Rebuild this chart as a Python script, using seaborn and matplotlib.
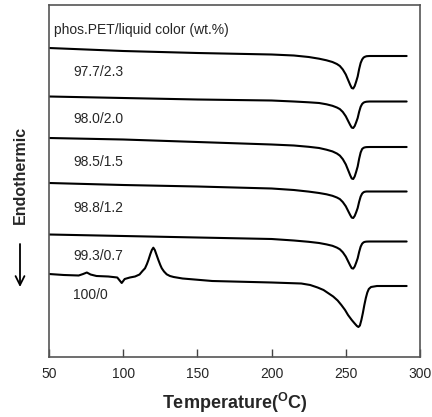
import pandas as pd
import seaborn as sns
import matplotlib.pyplot as plt

# DSC traces (stacked, arbitrary heat-flow units, endothermic down)
temp_common = [50, 100, 150, 200, 215, 225, 232, 237, 241, 244, 246, 248, 250,
               252, 253, 254, 255, 256, 257, 258, 259, 260, 261, 262, 263, 264,
               266, 270, 291]

s_977 = [30.9, 30.6, 30.4, 30.25, 30.15, 30.0, 29.83, 29.67, 29.5, 29.3, 29.1,
         28.75, 28.25, 27.55, 27.2, 26.9, 26.85, 27.1, 27.55, 28.05, 28.8, 29.4,
         29.75, 29.95, 30.03, 30.08, 30.1, 30.1, 30.1]
s_980 = [26.05, 25.9, 25.75, 25.65, 25.55, 25.47, 25.4, 25.27, 25.12, 24.95,
         24.79, 24.5, 24.07, 23.48, 23.19, 22.94, 22.9, 23.1, 23.48, 23.9, 24.53,
         25.02, 25.3, 25.44, 25.5, 25.53, 25.55, 25.55, 25.55]
s_985 = [21.9, 21.75, 21.5, 21.25, 21.15, 21.02, 20.9, 20.73, 20.56, 20.35,
         20.14, 19.78, 19.26, 18.53, 18.16, 17.85, 17.8, 18.06, 18.53, 19.05,
         19.83, 20.45, 20.8, 20.92, 20.97, 20.99, 21.0, 21.0, 21.0]
s_988 = [17.4, 17.2, 17.05, 16.85, 16.7, 16.54, 16.4, 16.27, 16.12, 15.95,
         15.79, 15.49, 15.07, 14.48, 14.19, 13.94, 13.9, 14.11, 14.48, 14.9,
         15.53, 16.04, 16.34, 16.48, 16.53, 16.55, 16.55, 16.55, 16.55]
s_993 = [12.25, 12.1, 11.95, 11.8, 11.65, 11.52, 11.4, 11.26, 11.12, 10.94,
         10.77, 10.47, 10.04, 9.44, 9.14, 8.88, 8.84, 9.05, 9.44, 9.87, 10.51,
         11.03, 11.33, 11.47, 11.52, 11.54, 11.55, 11.55, 11.55]

# neat PET has its own sampling (cold crystallization peak near 120 C)
temp_100 = [50, 60, 70, 73, 75.5, 78, 82, 90, 96, 99, 101, 104.5, 108, 111, 113,
            114.7, 116, 117, 118.3, 119.3, 120.3, 121.3, 122.5, 123.7, 125, 126,
            127.5, 129.3, 131.5, 134, 140, 160, 200, 220, 226, 231, 235, 238,
            241.5, 244.5, 247, 249.5, 251.5, 254, 256, 257.5, 258.5, 259.5,
            260.5, 261.5, 262.5, 263.5, 264.5, 265.5, 267, 271, 291]
s_100 = [8.3, 8.2, 8.15, 8.3, 8.45, 8.25, 8.1, 8.05, 7.95, 7.4, 7.8, 7.95, 8.05,
         8.25, 8.6, 8.87, 9.3, 9.7, 10.3, 10.7, 10.93, 10.7, 10.2, 9.7, 9.2,
         8.87, 8.55, 8.27, 8.1, 8.0, 7.85, 7.6, 7.45, 7.35, 7.2, 6.95, 6.7, 6.4,
         6.05, 5.65, 5.2, 4.7, 4.2, 3.7, 3.35, 3.1, 3.0, 3.15, 3.7, 4.4, 5.2,
         5.9, 6.45, 6.8, 7.0, 7.1, 7.1]

labels = ["97.7/2.3", "98.0/2.0", "98.5/1.5", "98.8/1.2", "99.3/0.7", "100/0"]
label_y = [28.5, 23.8, 19.5, 14.9, 10.1, 6.2]

curves = [(temp_common, s_977), (temp_common, s_980), (temp_common, s_985),
          (temp_common, s_988), (temp_common, s_993), (temp_100, s_100)]

sns.set_style("white")
plt.rcParams["font.family"] = ["Liberation Sans", "DejaVu Sans"]
plt.rcParams["mathtext.fontset"] = "custom"
plt.rcParams["mathtext.rm"] = "Liberation Sans"
plt.rcParams["mathtext.bf"] = "Liberation Sans:bold"

fig = plt.figure(figsize=(4.32, 4.17), dpi=100)
ax = fig.add_axes([49 / 432, 1 - 357 / 417, 371 / 432, 352 / 417])

for t, s in curves:
    df = pd.DataFrame({"Temperature": t, "Signal": s})
    sns.lineplot(data=df, x="Temperature", y="Signal", ax=ax, color="black",
                 linewidth=1.5, sort=False, estimator=None,
                 solid_joinstyle="round")

for lab, yy in zip(labels, label_y):
    ax.text(66.2, yy, lab, fontsize=10, va="center", ha="left")
ax.text(53.4, 32.7, "phos.PET/liquid color (wt.%)", fontsize=10,
        va="center", ha="left")

ax.set_xlim(50, 300)
ax.set_ylim(0, 35.2)
ax.set_xticks([50, 100, 150, 200, 250, 300])
ax.set_yticks([])
ax.tick_params(axis="x", direction="in", length=6, width=1, pad=7,
               labelsize=10, bottom=True, color="#444444")
for sp in ax.spines.values():
    sp.set_color("#555555")
    sp.set_linewidth(1.2)

ax.set_xlabel(r"Temperature($^{\mathbf{O}}$C)", fontsize=13,
              fontweight="bold", labelpad=7)
ax.set_ylabel("")

fig.text(20 / 432, 1 - 175 / 417, "Endothermic", rotation=90, fontsize=11.5,
         fontweight="bold", ha="center", va="center")
ax.annotate("", xy=(20 / 432, 1 - 287 / 417), xytext=(20 / 432, 1 - 244 / 417),
            xycoords="figure fraction", textcoords="figure fraction",
            annotation_clip=False,
            arrowprops=dict(arrowstyle="->", lw=1.3, color="black",
                            shrinkA=0, shrinkB=0, mutation_scale=16))

fig.savefig("out.png", dpi=100)
